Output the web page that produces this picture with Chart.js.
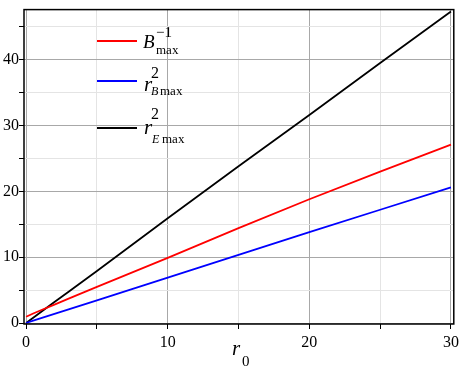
<!DOCTYPE html>
<html>
<head>
<meta charset="utf-8">
<script src="https://cdn.jsdelivr.net/npm/chart.js@4.4.1/dist/chart.umd.min.js"></script>
<style>
  html, body { margin: 0; padding: 0; background: #fff; }
  #wrap { width: 463px; height: 367px; }
</style>
</head>
<body>
<div id="wrap"><canvas id="c" width="463" height="367"></canvas></div>
<script>
// r0 sample points and the three curves
const r0 = [0, 0.5, 1, 2, 3, 5, 10, 15, 20, 25, 30];
const bMaxInv = [0.95, 1.45, 1.9, 2.8, 3.7, 5.5, 9.9, 14.4, 18.8, 23.0, 27.1];
const rBmax2 = [0, 0.35, 0.7, 1.38, 2.07, 3.45, 6.9, 10.35, 13.8, 17.2, 20.6];
const rEmax2 = [0, 0.8, 1.6, 3.2, 4.75, 7.9, 15.9, 23.8, 31.6, 39.5, 47.3];

const xTicks = [0, 5, 10, 15, 20, 25, 30];
const yTicks = [0, 5, 10, 15, 20, 25, 30, 35, 40, 45];
const xLabels = [0, 10, 20, 30];
const yLabels = [0, 10, 20, 30, 40];

const SERIF = "'Liberation Serif', 'DejaVu Serif', serif";

const pts = ys => r0.map((x, i) => ({ x: x, y: ys[i] }));

const gridColor = ctx => (ctx.tick && ctx.tick.value % 10 === 0) ? '#a8a8a8' : '#e4e4e4';

// frame, legend and the r0 axis title drawn on top
const decor = {
  id: 'decor',
  afterDraw(chart) {
    const c = chart.ctx;
    const a = chart.chartArea;
    c.save();
    c.strokeStyle = '#000';
    c.lineWidth = 1.5;
    c.strokeRect(a.left, a.top, a.right - a.left, a.bottom - a.top);

    const txt = (s, x, y, size, italic) => {
      c.font = (italic ? 'italic ' : '') + size + 'px ' + SERIF;
      c.fillStyle = '#000';
      c.textBaseline = 'alphabetic';
      c.textAlign = 'left';
      c.fillText(s, x, y);
    };

    // legend lines
    const items = [['#ff0000', 41], ['#0000ff', 81], ['#000000', 128]];
    c.lineWidth = 1.8;
    items.forEach(([col, y]) => {
      c.strokeStyle = col;
      c.beginPath();
      c.moveTo(97, y);
      c.lineTo(137, y);
      c.stroke();
    });

    // B_max^-1
    txt('B', 143, 48, 19, true);
    txt('max', 156, 54, 13, false);
    txt('\u22121', 156, 37, 15, false);
    // r_{B max}^2
    txt('r', 144, 91, 21, true);
    txt('2', 151, 78, 16, false);
    txt('B', 151, 95, 12, true);
    txt('max', 160, 95, 13, false);
    // r_{E max}^2
    txt('r', 144, 134, 21, true);
    txt('2', 151, 119, 16, false);
    txt('E', 152, 143, 12, true);
    txt('max', 162, 143, 13, false);

    // axis title r_0
    txt('r', 232, 355, 21, true);
    txt('0', 242, 366, 15, false);
    c.restore();
  }
};

new Chart(document.getElementById('c'), {
  type: 'scatter',
  data: {
    datasets: [
      { label: 'Bmax^-1', data: pts(bMaxInv), borderColor: '#ff0000' },
      { label: 'rBmax^2', data: pts(rBmax2), borderColor: '#0000ff' },
      { label: 'rEmax^2', data: pts(rEmax2), borderColor: '#000000' }
    ].map(d => Object.assign(d, { showLine: true, pointRadius: 0, borderWidth: 1.8, tension: 0, fill: false }))
  },
  options: {
    responsive: false,
    animation: false,
    layout: { padding: { top: 3, right: 7, left: 0, bottom: 0 } },
    plugins: { legend: { display: false }, tooltip: { enabled: false } },
    scales: {
      x: {
        type: 'linear',
        min: -0.15,
        max: 30.2,
        afterBuildTicks: s => { s.ticks = xTicks.map(v => ({ value: v })); },
        afterFit: s => { s.height = 43; },
        border: { display: false },
        grid: { color: gridColor, lineWidth: 1, tickLength: 5, tickColor: '#000', drawTicks: true },
        ticks: {
          autoSkip: false,
          maxRotation: 0,
          padding: 4,
          color: '#000',
          font: { family: SERIF, size: 16 },
          callback: v => xLabels.includes(v) ? String(v) : ''
        }
      },
      y: {
        type: 'linear',
        min: -0.15,
        max: 47.6,
        afterBuildTicks: s => { s.ticks = yTicks.map(v => ({ value: v })); },
        afterFit: s => { s.width = 24; },
        border: { display: false },
        grid: { color: gridColor, lineWidth: 1, tickLength: 5, tickColor: '#000', drawTicks: true },
        ticks: {
          autoSkip: false,
          padding: 0,
          color: '#000',
          font: { family: SERIF, size: 16 },
          callback: v => yLabels.includes(v) ? String(v) : ''
        }
      }
    }
  },
  plugins: [decor]
});
</script>
</body>
</html>
